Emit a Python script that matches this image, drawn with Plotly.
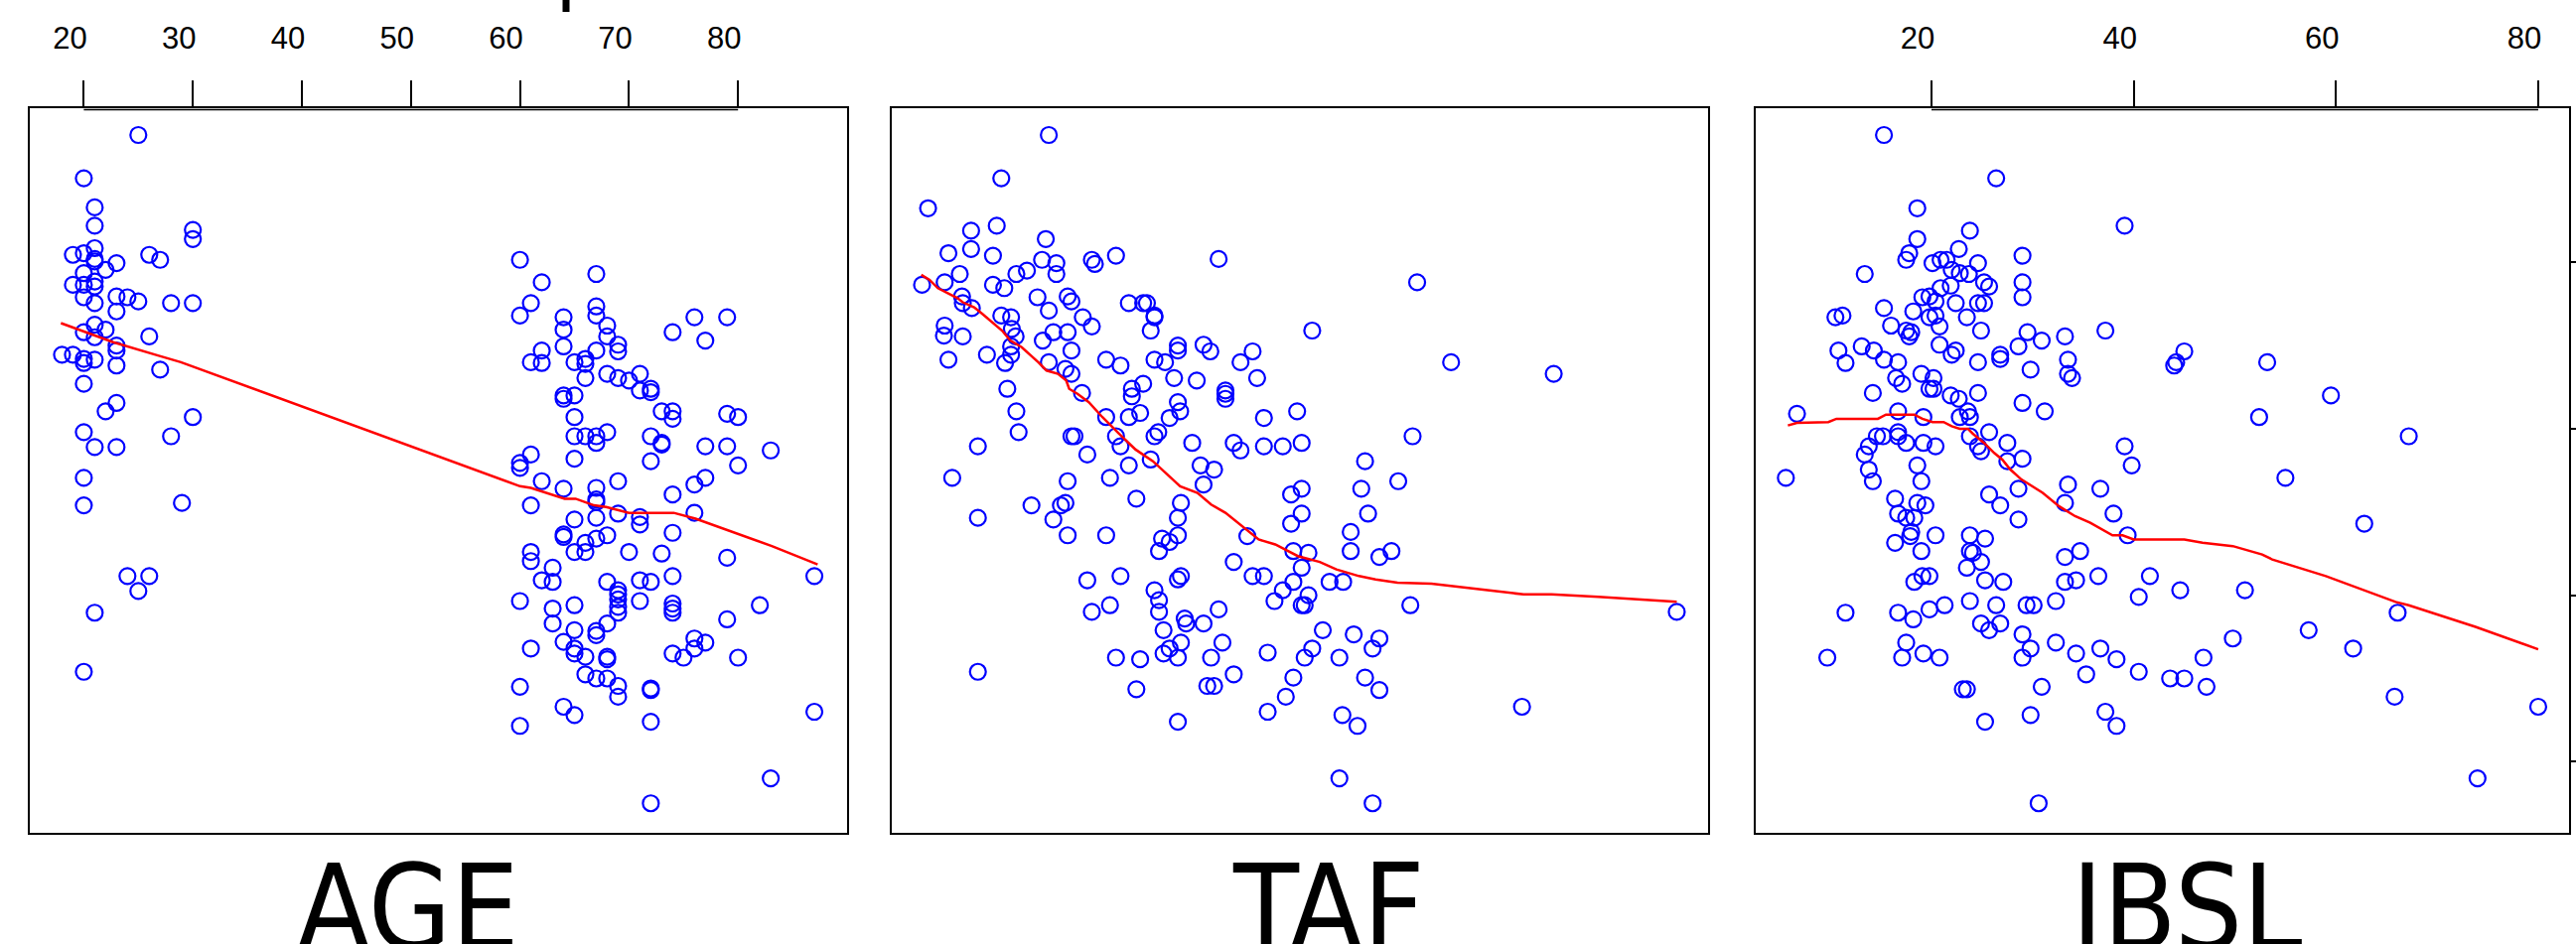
import plotly.graph_objects as go

# ---------------- data ----------------
AGE_x = [25,20,21,21,30,30,21,19,20,21,21,23,22,26,27,20,21,19,20,21,20,23,24,25,21,23,28,30,
         21,20,22,21,26,23,23,18,19,20,20,21,23,27,20,23,22,30,20,28,21,23,20,20,29,24,26,25,21,20,
         60,67,62,61,60,67,67,64,64,68,68,76,79,74,77,64,62,67,69,69,61,62,65,66,66,66,68,69,70,71,
         71,72,72,64,64,65,65,73,74,74,79,80,65,66,67,67,68,72,73,73,77,79,83,60,60,61,65,72,80,
         62,64,67,67,67,69,76,77,74,61,76,69,71,71,65,67,64,64,67,68,66,65,66,61,61,70,73,74,79,63,
         62,63,68,71,72,74,69,69,69,69,69,71,60,63,65,74,74,74,82,63,68,79,65,67,67,76,77,76,64,65,
         65,61,66,68,68,74,75,80,66,67,68,69,69,72,72,60,64,65,60,72,87,87,83,72]
AGE_y = [95.3,90.1,86.6,84.4,83.9,82.8,81.7,80.9,81.1,80.4,80.1,79.9,79.1,80.9,80.3,78.7,77.7,77.3,77.3,77.1,
         75.8,75.9,75.8,75.3,75.1,74.1,75.1,75.1,72.5,71.6,71.9,71.0,71.1,70.0,69.4,68.9,68.9,68.4,67.9,68.3,
         67.6,67.1,65.4,63.1,62.1,61.4,59.6,59.1,57.8,57.8,54.1,50.8,51.1,42.3,42.3,40.5,37.9,30.8,
         80.3,78.6,77.6,75.1,73.6,74.7,73.6,73.4,71.9,72.4,71.1,73.4,73.4,71.6,70.6,69.9,69.4,69.4,70.1,69.3,
         68.0,67.9,68.0,68.4,67.8,66.1,66.6,66.1,65.8,66.6,64.6,64.8,64.4,64.0,63.6,64.0,61.4,62.1,62.1,61.2,
         61.8,61.4,59.1,59.1,59.1,58.3,59.6,59.1,58.3,58.1,57.9,57.9,57.4,55.9,55.3,56.9,56.4,56.1,55.6,
         53.7,52.8,52.9,51.5,51.2,53.7,53.3,54.1,52.1,50.8,49.9,49.8,49.4,48.5,49.1,49.3,47.3,47.0,46.8,47.2,
         46.3,45.2,45.2,45.2,44.1,45.2,45.0,47.5,44.5,43.3,41.8,41.6,41.6,41.8,41.6,42.3,40.6,40.1,39.5,38.6,
         37.9,39.3,39.3,38.4,38.8,39.0,38.4,37.9,38.8,36.6,36.6,37.1,35.8,35.7,35.2,34.8,34.3,33.6,34.4,33.6,
         33.0,33.6,32.6,32.6,32.3,33.0,32.5,32.5,30.5,30.0,30.0,29.1,27.8,28.8,28.6,29.0,26.6,25.6,24.3,24.8,
         42.3,26.0,18.0,15.0]

TAF_x = [16.9,10.6,0.9,10.0,6.6,16.5,3.6,6.6,9.5,16.0,17.9,22.6,23.0,25.8,39.4,5.1,3.1,0.1,9.5,11.0,12.6,14.0,17.9,
         65.7,5.4,5.5,6.7,15.4,19.4,19.9,16.9,21.4,22.6,27.5,29.4,29.9,30.9,30.9,30.4,3.1,3.0,5.5,10.6,11.9,12.0,
         12.5,16.1,17.5,19.4,51.8,3.6,8.7,11.1,11.9,11.9,16.9,19.9,19.1,19.9,24.5,26.4,30.9,32.3,34.0,34.0,37.4,
         38.3,42.3,43.9,70.2,83.8,11.4,12.6,12.9,7.5,21.3,19.9,20.3,22.0,24.5,25.8,26.4,27.5,27.5,27.9,27.9,29.4,
         29.0,30.4,30.9,31.4,32.9,33.5,34.0,34.3,36.5,40.3,40.3,40.3,44.5,45.4,49.8,35.9,41.4,42.3,45.4,47.9,50.4,
         37.0,38.8,65.1,58.8,
         4.1,19.4,25.0,37.4,50.4,49.0,58.3,63.2,14.6,18.5,19.1,28.5,34.4,7.5,17.5,34.0,50.4,59.2,19.4,24.5,31.9,
         32.9,34.0,31.5,43.2,49.0,56.9,49.3,51.3,56.9,60.7,62.3,41.4,50.4,22.0,26.4,34.0,34.4,43.9,45.4,49.3,54.1,
         55.9,30.9,31.5,31.5,47.9,46.8,51.3,50.4,50.8,64.8,100.1,22.6,25.0,39.4,34.9,35.1,37.4,32.1,53.2,57.3,60.7,
         59.8,51.8,50.8,55.4,45.9,39.9,34.4,32.9,32.1,34.0,38.4,25.8,29.0,7.5,41.4,49.3,58.8,60.7,48.3,28.5,37.9,
         38.8,45.9,55.8,57.8,34.0,79.6,55.4,59.8]
TAF_y = [95.3,90.1,86.5,84.4,83.8,82.8,81.1,81.6,80.8,80.3,79.9,80.3,79.8,80.8,80.4,78.6,77.6,77.3,77.3,76.9,78.6,
         79.0,78.6,77.6,75.9,75.1,74.5,75.8,75.9,75.3,74.2,73.4,72.3,75.1,75.1,75.1,73.6,73.4,71.8,72.4,71.2,71.1,
         73.6,73.4,72.0,71.1,70.6,71.6,71.6,71.8,68.3,68.9,67.9,68.9,69.9,68.0,69.4,67.2,66.6,68.3,67.6,68.3,68.0,
         70.0,69.4,70.1,69.3,68.0,69.3,68.0,66.6,64.8,62.1,59.6,57.9,64.3,59.1,59.1,56.9,61.4,59.1,57.9,55.6,61.4,
         64.8,63.9,65.4,61.9,56.3,59.1,59.6,61.3,66.1,63.2,62.1,65.8,64.6,64.2,63.6,66.1,61.3,62.1,58.3,58.3,57.4,
         57.9,57.9,58.3,55.6,55.1,59.1,56.1,
         54.1,53.7,54.1,53.3,52.8,52.1,52.8,53.7,50.8,50.8,51.1,51.6,51.1,49.3,49.1,49.3,49.8,49.8,47.2,47.2,46.8,
         46.4,47.2,45.3,47.1,48.6,47.6,45.3,45.1,45.3,44.6,45.3,44.0,43.3,41.8,42.3,41.9,42.3,42.3,42.3,41.6,41.6,
         41.6,40.6,39.4,38.0,40.6,39.3,40.0,38.8,38.8,38.8,38.0,38.0,38.8,38.3,37.2,36.6,36.6,35.8,35.8,35.3,34.8,
         33.6,33.6,32.5,32.5,33.1,34.3,34.3,33.6,33.0,32.5,32.5,32.5,32.3,30.8,30.5,30.1,30.1,28.6,27.8,28.7,29.1,
         29.1,26.0,25.6,24.3,24.8,26.6,18.0,15.0]

IBSL_x = [15.3,26.4,18.6,39.1,23.8,18.6,22.7,17.8,17.5,29.0,20.1,20.9,21.5,24.6,13.4,22.0,22.8,23.7,29.0,25.2,25.7,
          21.9,20.9,29.0,19.1,19.8,20.4,22.4,24.6,25.2,15.3,18.2,19.8,20.4,23.5,10.5,11.2,16.0,17.5,18.0,17.8,20.8,
          24.9,29.5,37.2,33.2,30.9,13.1,14.3,10.8,11.5,15.3,16.7,20.8,22.4,22.0,24.6,26.8,26.8,28.6,29.8,33.5,33.5,
          33.9,45.0,44.2,44.0,53.2,16.5,17.1,19.0,20.2,19.8,20.2,14.2,21.9,22.7,24.6,29.0,31.2,23.6,22.8,23.8,16.7,
          19.2,6.7,59.5,52.4,67.2,14.6,15.2,16.7,16.7,17.5,19.2,20.4,13.8,13.4,13.8,18.6,23.8,24.6,24.9,25.7,27.5,
          27.5,29.0,39.1,39.8,
          5.6,14.2,19.0,55.0,33.5,36.7,28.6,25.7,16.4,18.6,19.4,26.8,33.2,38.0,62.8,28.6,16.7,17.5,18.3,18.0,20.4,
          16.4,17.9,19.0,23.8,25.3,23.8,24.1,24.9,23.5,39.4,33.2,34.7,18.3,19.1,19.8,25.3,27.1,33.2,34.3,36.5,41.6,
          40.5,44.6,51.0,11.5,16.7,18.2,19.8,21.3,23.8,26.4,29.4,30.1,32.3,24.9,25.7,26.8,29.0,66.1,57.3,49.8,17.5,
          17.1,19.2,20.8,9.7,29.0,29.8,32.3,34.3,36.7,38.3,40.5,35.3,43.6,45.0,46.9,47.2,61.7,65.8,80.0,23.1,23.5,
          30.9,25.3,29.8,37.2,38.3,74.0,30.6]
IBSL_y = [95.3,90.1,86.5,84.4,83.8,82.8,81.6,81.1,80.3,80.8,79.9,80.3,80.3,79.9,78.6,79.1,78.7,78.6,77.6,77.6,77.1,
          77.2,76.9,75.8,75.8,75.9,75.3,75.1,75.1,75.1,74.5,74.1,73.4,73.6,73.4,73.4,73.6,72.4,71.8,71.6,71.1,72.3,
          71.8,71.6,71.8,71.1,70.6,69.9,69.4,69.4,67.9,68.3,68.0,70.1,69.4,68.9,68.0,68.9,68.4,69.9,67.1,68.3,66.6,
          66.1,69.3,68.0,67.6,68.0,66.1,65.4,66.6,66.1,64.8,64.8,64.3,64.0,63.6,64.3,63.1,62.1,62.1,61.4,61.4,62.1,
          61.4,61.8,64.0,61.4,59.1,59.1,59.1,59.6,59.1,58.3,58.3,57.9,57.9,56.9,55.1,55.6,59.1,57.9,57.3,59.6,58.3,
          56.1,56.4,57.9,55.6,
          54.1,53.7,53.7,54.1,53.3,52.8,52.8,52.1,51.6,51.1,50.8,50.8,51.1,49.8,48.6,49.1,49.8,49.3,49.3,47.6,47.2,
          46.3,47.1,45.3,47.2,46.8,45.3,45.1,44.0,43.3,47.2,44.6,45.3,41.6,42.3,42.3,41.8,41.6,41.6,41.8,42.3,42.3,
          39.8,40.6,40.6,37.9,37.9,37.1,38.3,38.8,39.3,38.8,38.8,38.8,39.3,36.6,35.8,36.6,35.3,37.9,35.8,34.8,34.3,
          32.5,33.0,32.5,32.5,32.5,33.6,34.3,33.0,33.6,32.3,30.8,30.5,30.0,30.0,32.5,29.0,33.6,27.8,26.6,28.7,28.7,
          29.0,24.8,25.6,26.0,24.3,18.0,15.0]

# smoothers
AGE_fit_x = [17.9,22.7,26.8,28.9,60.0,61.0,64.1,65.1,66.8,67.9,70.0,74.1,76.1,79.5,83.1,87.3]
AGE_fit_y = [72.7,70.4,68.8,68.0,53.1,52.9,51.6,51.6,50.8,50.6,49.9,49.9,49.2,47.6,45.9,43.7]
TAF_fit_x = [0.0,1.1,2.2,4.8,5.5,7.0,8.1,9.2,10.7,11.8,13.3,15.5,16.6,18.1,19.2,19.6,20.7,22.2,24.0,26.2,28.4,
             30.7,32.9,34.3,36.6,38.4,40.3,42.5,44.7,46.9,49.9,52.8,55.0,58.0,60.2,63.1,67.6,75.0,79.8,83.5,89.7,100.1]
TAF_fit_y = [78.5,77.9,76.9,75.7,75.2,74.6,73.8,73.0,71.8,70.6,69.8,68.0,67.0,66.6,65.8,64.8,64.2,63.2,61.4,59.4,57.5,
             56.1,54.3,53.1,52.3,50.9,49.9,48.3,46.7,46.1,44.7,44.0,43.1,42.3,41.9,41.5,41.4,40.6,40.1,40.1,39.8,39.2]
IBSL_fit_x = [5.8,6.7,9.8,10.6,14.7,15.5,18.3,19.1,20.1,21.2,22.0,22.8,23.6,24.1,25.2,26.2,27.0,27.8,28.9,29.7,31.0,
              32.6,34.2,35.7,36.8,37.9,38.9,40.0,45.0,46.8,49.8,52.7,53.7,59.0,65.9,67.2,73.8,80.0]
IBSL_fit_y = [60.4,60.7,60.8,61.2,61.2,61.7,61.7,61.2,60.8,60.8,60.3,60.0,60.0,59.4,58.3,57.1,56.3,55.1,53.9,53.3,52.3,
              50.7,49.5,48.7,47.9,47.2,47.2,46.7,46.7,46.3,45.9,44.9,44.3,42.3,39.2,38.8,36.2,33.5]

AGE_ticks = [20, 30, 40, 50, 60, 70, 80]
IBSL_ticks = [20, 40, 60, 80]
Y_ticks = [20, 40, 60, 80]
panel_labels = ["AGE", "TAF", "IBSL"]

# ---------------- figure ----------------
W, H = 2594, 951
fig = go.Figure()

panels = [(AGE_x, AGE_y, AGE_fit_x, AGE_fit_y, "x", "y"),
          (TAF_x, TAF_y, TAF_fit_x, TAF_fit_y, "x2", "y2"),
          (IBSL_x, IBSL_y, IBSL_fit_x, IBSL_fit_y, "x3", "y3")]
for px, py, fx, fy, xa, ya in panels:
    fig.add_trace(go.Scatter(x=px, y=py, mode="markers", xaxis=xa, yaxis=ya,
                             marker=dict(symbol="circle-open", size=16, color="#0000ff",
                                         line=dict(width=2.2, color="#0000ff")),
                             showlegend=False, hoverinfo="skip"))
    fig.add_trace(go.Scatter(x=fx, y=fy, mode="lines", xaxis=xa, yaxis=ya,
                             line=dict(color="#ff0000", width=2.5),
                             showlegend=False, hoverinfo="skip"))

def px2paper_x(p):
    return p / W

def px2paper_y(p):
    return 1 - p / H

dom = [(29.5, 853), (898, 1720), (1768, 2587)]
ydom = [px2paper_y(839), px2paper_y(109)]
yrange = [11.45, 98.52]
tickfont = dict(family="Liberation Sans, Arial, sans-serif", size=31, color="black")

common_x = dict(showgrid=False, zeroline=False, showline=True, linecolor="black",
                linewidth=2, mirror=True)
fig.update_layout(
    width=W, height=H, autosize=False, margin=dict(l=0, r=0, t=0, b=0, pad=0),
    paper_bgcolor="white", plot_bgcolor="white",
    xaxis=dict(domain=[px2paper_x(dom[0][0]), px2paper_x(dom[0][1])], range=[15.0, 90.0],
               anchor="y", side="top", ticks="outside", ticklen=26, tickwidth=2,
               tickcolor="black", tickvals=AGE_ticks, tickfont=tickfont,
               ticklabelstandoff=20, ticklabelshift=-14, **common_x),
    xaxis2=dict(domain=[px2paper_x(dom[1][0]), px2paper_x(dom[1][1])], range=[-3.91, 104.25],
                anchor="y2", showticklabels=False, ticks="", **common_x),
    xaxis3=dict(domain=[px2paper_x(dom[2][0]), px2paper_x(dom[2][1])], range=[2.62, 83.05],
                anchor="y3", side="top", ticks="outside", ticklen=26, tickwidth=2,
                tickcolor="black", tickvals=IBSL_ticks, tickfont=tickfont,
                ticklabelstandoff=20, ticklabelshift=-14, **common_x),
    yaxis=dict(domain=ydom, range=yrange, anchor="x", showticklabels=False, ticks="", **common_x),
    yaxis2=dict(domain=ydom, range=yrange, anchor="x2", showticklabels=False, ticks="", **common_x),
    yaxis3=dict(domain=ydom, range=yrange, anchor="x3", side="right", ticks="outside",
                ticklen=7, tickwidth=2, tickcolor="black", tickvals=Y_ticks,
                showticklabels=False, **common_x),
)

# R-style axis lines spanning first..last tick along the top
shapes = []
for xa, ticks in (("x", AGE_ticks), ("x3", IBSL_ticks)):
    shapes.append(dict(type="line", xref=xa, yref="paper", x0=ticks[0], x1=ticks[-1],
                       y0=px2paper_y(110.5), y1=px2paper_y(110.5),
                       line=dict(color="black", width=1.5)))
# descender of a cut-off title glyph at the very top
shapes.append(dict(type="line", xref="paper", yref="paper", x0=px2paper_x(570), x1=px2paper_x(570),
                   y0=1.0, y1=px2paper_y(12), line=dict(color="black", width=7)))
fig.update_layout(shapes=shapes)

label_x = [411, 1338, 2202]
for txt, lx in zip(panel_labels, label_x):
    fig.add_annotation(text=txt, xref="paper", yref="paper", x=px2paper_x(lx), y=px2paper_y(914),
                       xanchor="center", yanchor="middle", showarrow=False,
                       font=dict(family="DejaVu Sans Condensed, DejaVu Sans, sans-serif",
                                 size=120, color="black"))

fig.write_html(
    "out.html",
    config={"displayModeBar": False, "responsive": False},
    post_script=(
        "document.documentElement.style.margin='0px';"
        "document.documentElement.style.overflow='hidden';"
        "document.body.style.margin='0px';document.body.style.padding='0px';"
        "document.body.style.overflow='hidden';"
        "var gd=document.getElementById('{plot_id}');"
        "gd.style.position='fixed';gd.style.left='0px';gd.style.top='0px';"
    ),
)
